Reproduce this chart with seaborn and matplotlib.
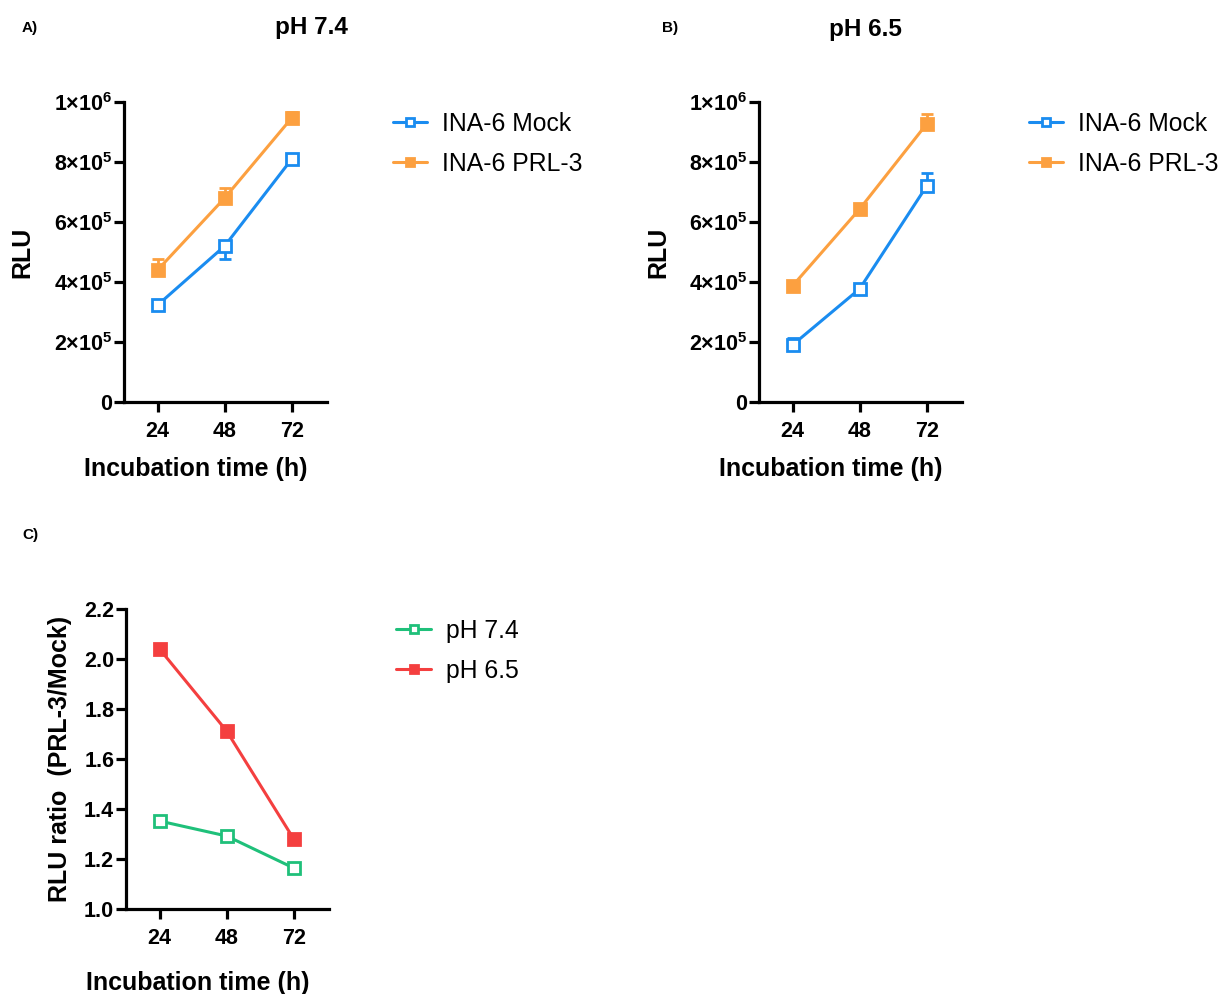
import pandas as pd
import matplotlib
matplotlib.use("Agg")
import matplotlib.pyplot as plt
import seaborn as sns

# ==========================================
# DATA
# ==========================================
times = [24, 48, 72]

# pH 7.4 (RLU mean, error below / above)
mock_74 = [3.23e5, 5.20e5, 8.10e5]
mock_74_lo = [0.12e5, 0.42e5, 0.0]
mock_74_hi = [0.0, 0.0, 0.0]
prl3_74 = [4.40e5, 6.80e5, 9.47e5]
prl3_74_lo = [0.0, 0.0, 0.0]
prl3_74_hi = [0.38e5, 0.33e5, 0.21e5]

# pH 6.5
mock_65 = [1.90e5, 3.77e5, 7.20e5]
mock_65_lo = [0.0, 0.0, 0.0]
mock_65_hi = [0.23e5, 0.0, 0.42e5]
prl3_65 = [3.87e5, 6.43e5, 9.27e5]
prl3_65_lo = [0.0, 0.0, 0.0]
prl3_65_hi = [0.0, 0.0, 0.33e5]

# RLU ratio PRL-3 / Mock
ratio_74 = [1.352, 1.292, 1.164]
ratio_65 = [2.040, 1.712, 1.280]

y_ticks_rlu = [0, 2e5, 4e5, 6e5, 8e5, 1e6]
y_ticklabels_rlu = ["0", r"$\mathbf{2{\times}10^{5}}$", r"$\mathbf{4{\times}10^{5}}$",
                    r"$\mathbf{6{\times}10^{5}}$", r"$\mathbf{8{\times}10^{5}}$",
                    r"$\mathbf{1{\times}10^{6}}$"]
y_ticks_ratio = [1.0, 1.2, 1.4, 1.6, 1.8, 2.0, 2.2]

BLUE = "#1a8cf0"
ORANGE = "#fca040"
GREEN = "#1fc07a"
RED = "#f43f3f"

sns.set_theme(style="ticks")
plt.rcParams["font.family"] = ["Liberation Sans", "DejaVu Sans"]
plt.rcParams["mathtext.fontset"] = "custom"
plt.rcParams["mathtext.rm"] = "Liberation Sans"
plt.rcParams["mathtext.bf"] = "Liberation Sans:bold"
for key in ["text.color", "axes.labelcolor", "xtick.color", "ytick.color",
            "xtick.labelcolor", "ytick.labelcolor"]:
    plt.rcParams[key] = "black"

fig = plt.figure(figsize=(12.21, 9.94), dpi=100)

W = 0.1660
H = 0.3018
ax_a = fig.add_axes([0.1016, 0.5956, W, H])
ax_b = fig.add_axes([0.6216, 0.5956, W, H])
ax_c = fig.add_axes([0.1032, 0.0855, W, H])


def draw_series(ax, y, lo, hi, color, label, open_marker):
    df = pd.DataFrame({"time": times, "value": y})
    if lo is not None:
        ax.errorbar(times, y, yerr=[lo, hi], fmt="none", ecolor=color,
                    elinewidth=2, capsize=4, capthick=2, zorder=2)
    sns.lineplot(data=df, x="time", y="value", ax=ax, color=color, lw=2.2,
                 marker="s", markersize=8, markeredgewidth=2,
                 markerfacecolor="white" if open_marker else color,
                 markeredgecolor=color, label=label, zorder=3)


def style_axes(ax, xlabel_y=-0.185):
    for s in ["top", "right"]:
        ax.spines[s].set_visible(False)
    for s in ["left", "bottom"]:
        ax.spines[s].set_linewidth(2.3)
        ax.spines[s].set_color("black")
    ax.set_xlim(12, 84.5)
    ax.set_xticks(times)
    ax.set_xticklabels([str(t) for t in times])
    ax.tick_params(axis="both", width=2.3, length=7, color="black",
                   labelcolor="black", labelsize=15.5)
    ax.tick_params(axis="x", pad=7)
    ax.tick_params(axis="y", pad=1.5)
    for lab in ax.get_xticklabels() + ax.get_yticklabels():
        lab.set_fontweight("bold")
    ax.set_xlabel("Incubation time (h)", fontsize=18, fontweight="bold",
                  color="black")
    ax.xaxis.set_label_coords(0.355, xlabel_y)


def legend(ax, x, y):
    leg = ax.legend(loc="upper left", bbox_to_anchor=(x, y),
                    bbox_transform=fig.transFigure, frameon=False, fontsize=17.8,
                    handlelength=1.4, handletextpad=0.6, labelspacing=0.65,
                    markerscale=0.8)
    for t in leg.get_texts():
        t.set_color("black")


# Panel A
draw_series(ax_a, mock_74, mock_74_lo, mock_74_hi, BLUE, "INA-6 Mock", True)
draw_series(ax_a, prl3_74, prl3_74_lo, prl3_74_hi, ORANGE, "INA-6 PRL-3", False)
ax_a.set_ylim(0, 1e6)
ax_a.set_yticks(y_ticks_rlu)
ax_a.set_yticklabels(y_ticklabels_rlu)
style_axes(ax_a)
ax_a.set_ylabel("RLU", fontsize=18, fontweight="bold", color="black")
ax_a.yaxis.set_label_coords(-0.44, 0.5)
legend(ax_a, 0.3034, 0.910)

# Panel B
draw_series(ax_b, mock_65, mock_65_lo, mock_65_hi, BLUE, "INA-6 Mock", True)
draw_series(ax_b, prl3_65, prl3_65_lo, prl3_65_hi, ORANGE, "INA-6 PRL-3", False)
ax_b.set_ylim(0, 1e6)
ax_b.set_yticks(y_ticks_rlu)
ax_b.set_yticklabels(y_ticklabels_rlu)
style_axes(ax_b)
ax_b.set_ylabel("RLU", fontsize=18, fontweight="bold", color="black")
ax_b.yaxis.set_label_coords(-0.435, 0.5)
legend(ax_b, 0.8244, 0.910)

# Panel C
draw_series(ax_c, ratio_74, None, None, GREEN, "pH 7.4", True)
draw_series(ax_c, ratio_65, None, None, RED, "pH 6.5", False)
ax_c.set_ylim(1.0, 2.2)
ax_c.set_yticks(y_ticks_ratio)
ax_c.set_yticklabels([f"{v:.1f}" for v in y_ticks_ratio])
style_axes(ax_c, xlabel_y=-0.205)
ax_c.set_ylabel("RLU ratio  (PRL-3/Mock)", fontsize=18, fontweight="bold",
                color="black")
ax_c.yaxis.set_label_coords(-0.267, 0.5)
legend(ax_c, 0.3064, 0.400)

# titles and panel letters
fig.text(0.255, 0.972, "pH 7.4", fontsize=17.5, fontweight="bold",
         ha="center", va="center")
fig.text(0.709, 0.970, "pH 6.5", fontsize=17.5, fontweight="bold",
         ha="center", va="center")
fig.text(0.018, 0.972, "A)", fontsize=11, fontweight="bold", va="center")
fig.text(0.542, 0.972, "B)", fontsize=11, fontweight="bold", va="center")
fig.text(0.018, 0.462, "C)", fontsize=11, fontweight="bold", va="center")

fig.savefig("out.png", dpi=100)
